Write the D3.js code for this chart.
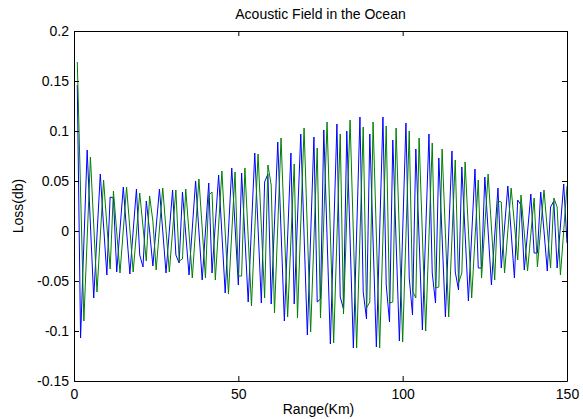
<!DOCTYPE html>
<html lang="en">
<head>
    <meta charset="UTF-8">
    <title>Acoustic Field in the Ocean</title>
    <style>
        html, body { margin: 0; padding: 0; background: #fff; }
        #stage { width: 583px; height: 419px; }
        text { font-family: "Liberation Sans", Arial, sans-serif; font-size: 14px; fill: #000; }
    </style>
</head>
<body>
    <div id="stage"></div>

    <script src="https://cdn.jsdelivr.net/npm/d3@7"></script>
    <script>
        // range samples, km
        const rangeStart = 1;
        const rangeEnd = 150;
        const rangeKm = d3.range(rangeStart, rangeEnd + 1);

        // loss (db), one value per km
        const lossBlue = [
            0.146, -0.107, -0.012, 0.081, 0.006, -0.067, -0.004, 0.057, 0.005, -0.044,
            0.034, 0.033, -0.041, 0.002, 0.044, 0.000, -0.043, 0.000, 0.042, -0.024,
            -0.036, 0.030, 0.000, -0.035, 0.004, 0.042, 0.000, -0.042, 0.000, 0.041,
            -0.024, -0.032, 0.039, -0.003, -0.044, 0.003, 0.050, 0.000, -0.049, 0.000,
            0.048, -0.042, 0.007, 0.056, -0.003, -0.062, 0.000, 0.063, 0.005, -0.054,
            0.058, -0.006, -0.071, 0.004, 0.078, 0.003, -0.072, 0.049, 0.057, -0.073,
            0.008, 0.089, 0.000, -0.090, -0.006, 0.078, -0.073, 0.012, 0.097, -0.004,
            -0.104, -0.005, 0.094, -0.071, -0.068, 0.101, -0.006, -0.113, -0.003, 0.107,
            -0.066, -0.078, 0.100, -0.008, -0.117, -0.002, 0.114, -0.061, -0.088, 0.097,
            -0.010, -0.116, -0.001, 0.114, -0.054, -0.091, 0.091, -0.010, -0.110, -0.001,
            0.108, -0.047, -0.084, 0.082, -0.008, -0.099, -0.001, 0.097, -0.042, -0.072,
            0.073, -0.006, -0.086, -0.003, 0.080, -0.041, -0.059, 0.064, -0.003, -0.070,
            -0.004, 0.062, -0.037, -0.037, 0.054, 0.000, -0.054, -0.005, 0.043, -0.037,
            0.004, 0.045, -0.001, -0.047, 0.031, 0.026, -0.039, -0.001, 0.037, -0.022,
            -0.022, 0.039, 0.000, -0.040, 0.024, 0.030, -0.037, 0.005, 0.047, -0.012
        ];
        const lossGreen = [
            0.169, 0.040, -0.090, -0.008, 0.074, 0.006, -0.061, -0.005, 0.051, 0.006,
            -0.038, 0.040, -0.001, -0.042, 0.001, 0.044, 0.002, -0.041, -0.002, 0.038,
            0.004, -0.030, 0.035, 0.010, -0.039, 0.002, 0.043, 0.001, -0.041, 0.000,
            0.041, -0.030, -0.028, 0.042, -0.002, -0.047, 0.002, 0.052, 0.003, -0.047,
            0.036, 0.039, -0.049, 0.005, 0.060, -0.001, -0.063, -0.002, 0.059, -0.045,
            -0.045, 0.063, -0.006, -0.075, 0.001, 0.077, 0.005, -0.067, 0.066, 0.046,
            -0.082, 0.005, 0.093, 0.003, -0.086, -0.009, 0.067, -0.087, 0.008, 0.103,
            0.001, -0.101, -0.009, 0.083, -0.087, 0.011, 0.109, -0.002, -0.112, -0.007,
            0.097, -0.083, 0.014, 0.111, -0.003, -0.117, -0.006, 0.104, -0.077, -0.071,
            0.109, -0.004, -0.117, -0.006, 0.105, -0.072, -0.071, 0.103, -0.004, -0.111,
            -0.005, 0.100, -0.060, -0.067, 0.093, -0.004, -0.100, -0.006, 0.088, -0.057,
            -0.056, 0.082, -0.002, -0.086, -0.007, 0.071, -0.052, -0.042, 0.069, 0.001,
            -0.067, -0.008, 0.051, -0.047, 0.005, 0.057, 0.004, -0.049, 0.030, 0.029,
            -0.042, 0.000, 0.043, 0.007, -0.029, 0.036, -0.002, -0.040, -0.003, 0.033,
            -0.036, 0.003, 0.041, 0.002, -0.037, 0.033, 0.024, -0.044, 0.000, 0.045
        ];

        // axes ticks
        const xTicks = [0, 50, 100, 150];
        const yTicks = [-0.15, -0.1, -0.05, 0, 0.05, 0.1, 0.15, 0.2];
        const yTickLabels = ['-0.15', '-0.1', '-0.05', '0', '0.05', '0.1', '0.15', '0.2'];

        const width = 583, height = 419;
        const margin = { top: 31, right: 16, bottom: 38, left: 74 };

        const svg = d3.select('#stage').append('svg')
            .attr('width', width)
            .attr('height', height);

        const x = d3.scaleLinear()
            .domain([0, 150])
            .range([margin.left, width - margin.right]);

        const y = d3.scaleLinear()
            .domain([-0.15, 0.2])
            .range([height - margin.bottom, margin.top]);

        // data lines first, box on top
        const line = d3.line()
            .x((d, i) => x(rangeKm[i]))
            .y(d => y(d));

        const plot = svg.append('g');
        plot.append('path')
            .datum(lossBlue)
            .attr('fill', 'none')
            .attr('stroke', '#0000ff')
            .attr('stroke-width', 1)
            .attr('d', line);
        plot.append('path')
            .datum(lossGreen)
            .attr('fill', 'none')
            .attr('stroke', '#008000')
            .attr('stroke-width', 1)
            .attr('d', line);

        // matlab style box with inward ticks on all four sides
        const tick = 5;
        const styleAxis = g => {
            g.selectAll('path.domain').attr('stroke', '#000');
            g.selectAll('.tick line').attr('stroke', '#000');
            g.selectAll('text')
                .style('font-family', '"Liberation Sans", Arial, sans-serif')
                .style('font-size', '14px')
                .attr('fill', '#000');
        };

        svg.append('g')
            .attr('transform', `translate(0,${height - margin.bottom})`)
            .call(d3.axisBottom(x).tickValues(xTicks).tickSizeInner(-tick).tickSizeOuter(0).tickPadding(8))
            .call(styleAxis);

        svg.append('g')
            .attr('transform', `translate(0,${margin.top})`)
            .call(d3.axisTop(x).tickValues(xTicks).tickFormat('').tickSizeInner(-tick).tickSizeOuter(0))
            .call(styleAxis);

        svg.append('g')
            .attr('transform', `translate(${margin.left},0)`)
            .call(d3.axisLeft(y).tickValues(yTicks)
                .tickFormat((d, i) => yTickLabels[i])
                .tickSizeInner(-tick).tickSizeOuter(0).tickPadding(5))
            .call(styleAxis);

        svg.append('g')
            .attr('transform', `translate(${width - margin.right},0)`)
            .call(d3.axisRight(y).tickValues(yTicks).tickFormat('').tickSizeInner(-tick).tickSizeOuter(0))
            .call(styleAxis);

        // labels
        const cx = (margin.left + width - margin.right) / 2;
        svg.append('text')
            .attr('x', cx)
            .attr('y', 19)
            .attr('text-anchor', 'middle')
            .text('Acoustic Field in the Ocean');

        svg.append('text')
            .attr('x', cx - 2)
            .attr('y', 414)
            .attr('text-anchor', 'middle')
            .text('Range(Km)');

        svg.append('text')
            .attr('transform', `translate(23,${(margin.top + height - margin.bottom) / 2}) rotate(-90)`)
            .attr('text-anchor', 'middle')
            .text('Loss(db)');
    </script>
</body>
</html>
